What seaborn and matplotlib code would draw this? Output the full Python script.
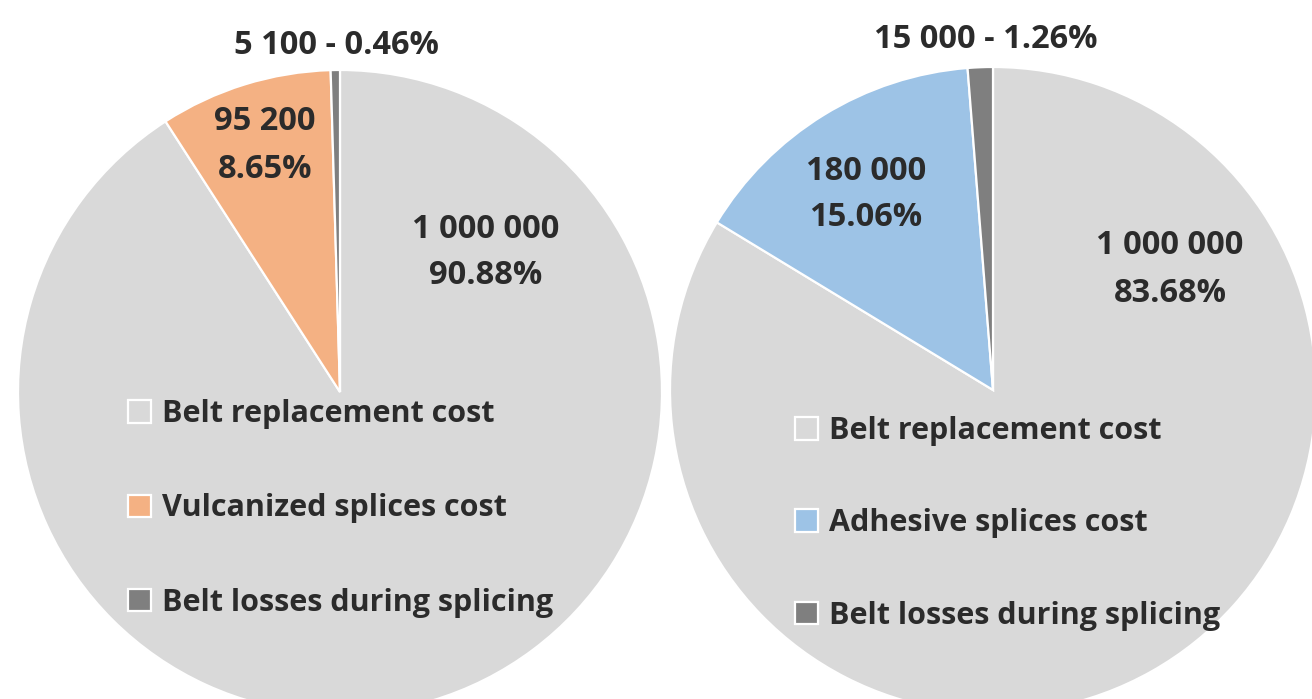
import matplotlib
matplotlib.use("Agg")
import matplotlib.pyplot as plt
import seaborn as sns

# ---- data ----
categories_left = ["Belt replacement cost", "Vulcanized splices cost", "Belt losses during splicing"]
values_left = [1000000, 95200, 5100]
categories_right = ["Belt replacement cost", "Adhesive splices cost", "Belt losses during splicing"]
values_right = [1000000, 180000, 15000]

colors_left = ["#D9D9D9", "#F4B183", "#7F7F7F"]
colors_right = ["#D9D9D9", "#9DC3E6", "#7F7F7F"]

sns.set_theme(style="white")
plt.rcParams["font.family"] = ["Open Sans", "DejaVu Sans"]
TXT = "#2b2b2b"
FS_NUM = 23.5
FS_LEG = 22

W, H = 1312, 699
fig = plt.figure(figsize=(W / 100, H / 100), dpi=100)
ax = fig.add_axes([0, 0, 1, 1])


def fmt(v):
    return f"{v:,}".replace(",", " ")


def draw(center, radius, values, colors, cats, label_pos, small_pos, legend_anchor, spacing):
    wedges, _ = ax.pie(values, colors=colors, startangle=90, counterclock=False,
                       center=center, radius=radius, frame=True,
                       wedgeprops=dict(edgecolor="white", linewidth=1.6))
    total = sum(values)
    pct = [v / total * 100 for v in values]
    for i in (0, 1):
        x, y1, y2 = label_pos[i]
        ax.text(x, y1, fmt(values[i]), ha="center", va="center",
                fontsize=FS_NUM, fontweight="bold", color=TXT)
        ax.text(x, y2, f"{pct[i]:.2f}%", ha="center", va="center",
                fontsize=FS_NUM, fontweight="bold", color=TXT)
    ax.text(small_pos[0], small_pos[1], f"{fmt(values[2])} - {pct[2]:.2f}%",
            ha="center", va="center", fontsize=FS_NUM, fontweight="bold", color=TXT)
    leg = ax.legend(wedges, cats, loc="upper left", bbox_to_anchor=legend_anchor,
                    bbox_transform=ax.transData, frameon=False,
                    prop=dict(size=FS_LEG, weight="bold"), labelcolor=TXT,
                    handlelength=0.75, handleheight=0.75, handletextpad=0.36,
                    labelspacing=spacing, borderpad=0, borderaxespad=0)
    return leg


leg1 = draw((340, H - 392), 322, values_left, colors_left, categories_left,
            [(486, H - 229, H - 276), (265, H - 122, H - 170)], (336, H - 45),
            (128, H - 399), 2.11)
ax.add_artist(leg1)
draw((993, H - 390), 323, values_right, colors_right, categories_right,
     [(1170, H - 246, H - 293), (866, H - 172, H - 218)], (986, H - 39),
     (795, H - 416), 2.04)

ax.set_xlim(0, W)
ax.set_ylim(0, H)
ax.set_aspect("auto")
ax.axis("off")
fig.savefig("out.png", dpi=100, facecolor="white")
